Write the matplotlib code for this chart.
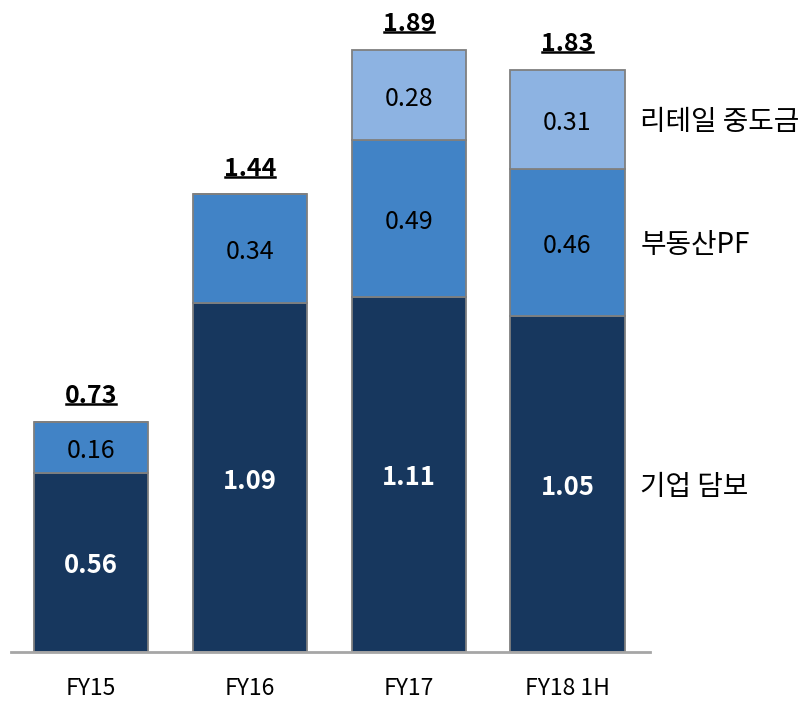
import matplotlib.pyplot as plt

plt.rcParams['font.family'] = ['Noto Sans CJK KR', 'DejaVu Sans']

categories = ['FY15', 'FY16', 'FY17', 'FY18 1H']
corporate = [0.56, 1.09, 1.11, 1.05]     # 기업 담보
pf = [0.16, 0.34, 0.49, 0.46]            # 부동산PF
retail = [0.0, 0.0, 0.28, 0.31]          # 리테일 중도금
totals = [0.73, 1.44, 1.89, 1.83]
series_names = ['기업 담보', '부동산PF', '리테일 중도금']

colors = ['#17375E', '#4183C6', '#8DB3E2']
text_colors = ['white', 'black', 'black']

fig = plt.figure(figsize=(8.12, 7.01), dpi=100)
ax = fig.add_axes([0.0135, 0.0699, 0.787, 0.913])

x = list(range(len(categories)))
bottoms = [0.0] * len(categories)
for vals, col, tcol in zip([corporate, pf, retail], colors, text_colors):
    ax.bar(x, vals, width=0.72, bottom=bottoms, color=col,
           edgecolor='#7F7F7F', linewidth=1.3)
    for i, v in enumerate(vals):
        if v > 0:
            ax.annotate(f'{v:.2f}', (x[i], bottoms[i] + v / 2), xytext=(0, -2.5),
                        textcoords='offset points', ha='center', va='center',
                        fontsize=18.5 if tcol == 'white' else 18, color=tcol,
                        fontweight='bold' if tcol == 'white' else 'normal')
    bottoms = [b + v for b, v in zip(bottoms, vals)]

# totals, bold and underlined
tot_texts = []
for i, t in enumerate(totals):
    tot_texts.append(ax.annotate(f'{t:.2f}', (x[i], bottoms[i]), xytext=(0, 10),
                                 textcoords='offset points', ha='center', va='bottom',
                                 fontsize=18, fontweight='bold'))

# series labels at the right, level with the last bar's segments
last = len(categories) - 1
seg_mid = [corporate[last] / 2,
           corporate[last] + pf[last] / 2,
           corporate[last] + pf[last] + retail[last] / 2]
for name, y in zip(series_names, seg_mid):
    ax.annotate(name, (3.46, y), xytext=(0, -2), textcoords='offset points',
                ha='left', va='center', fontsize=20)

ax.set_xlim(-0.505, 3.52)
ax.set_ylim(0, 2.0)
ax.set_xticks(x)
ax.set_xticklabels(categories, fontsize=16.5)
ax.tick_params(axis='x', length=0, pad=18)
ax.set_yticks([])
for s in ['top', 'right', 'left']:
    ax.spines[s].set_visible(False)
ax.spines['bottom'].set_color('#A6A6A6')
ax.spines['bottom'].set_linewidth(2)

# draw underline under totals
fig.canvas.draw()
renderer = fig.canvas.get_renderer()
inv = fig.transFigure.inverted()
for t in tot_texts:
    bb = t.get_window_extent(renderer)
    (x0, y0), (x1, y1) = inv.transform([(bb.x0, bb.y0), (bb.x1, bb.y0)])
    yline = y0 + 4 / 701
    fig.add_artist(plt.Line2D([x0 + 1 / 812, x1 - 1 / 812], [yline, yline],
                              color='black', linewidth=1.8))

fig.savefig('out.png', dpi=100)
